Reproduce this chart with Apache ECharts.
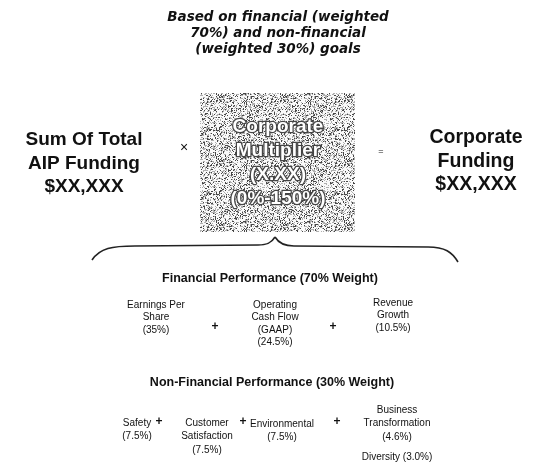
<!DOCTYPE html>
<html lang="en">
<head>
    <meta charset="UTF-8">
    <title>Corporate Funding</title>
    <script src="https://cdn.jsdelivr.net/npm/echarts@6/dist/echarts.min.js"></script>
    <style>
        body, html { padding: 0; margin: 0; background: #fff; }
        #chart-panel { width: 535px; height: 465px; }
    </style>
</head>
<body>
    <div id="chart-panel"></div>
    <script>
        // texts of the diagram
        var titleLines = ['Based on financial (weighted', '70%) and non-financial', '(weighted 30%) goals'];
        var leftLines = ['Sum Of Total', 'AIP Funding', '$XX,XXX'];
        var multiplierLines = ['Corporate', 'Multiplier', '(X.XX)', '(0%-150%)'];
        var rightLines = ['Corporate', 'Funding', '$XX,XXX'];
        var finTitle = 'Financial Performance (70% Weight)';
        var finItems = [
            ['Earnings Per', 'Share', '(35%)'],
            ['Operating', 'Cash Flow', '(GAAP)', '(24.5%)'],
            ['Revenue', 'Growth', '(10.5%)']
        ];
        var nonFinTitle = 'Non-Financial Performance (30% Weight)';
        var nonFinItems = [
            ['Safety', '(7.5%)'],
            ['Customer', 'Satisfaction', '(7.5%)'],
            ['Environmental', '(7.5%)'],
            ['Business', 'Transformation', '(4.6%)']
        ];
        var diversityLine = 'Diversity (3.0%)';

        // speckled grey texture for the multiplier box
        function makeTexture() {
            var c = document.createElement('canvas');
            c.width = 64; c.height = 64;
            var ctx = c.getContext('2d');
            var img = ctx.createImageData(64, 64);
            for (var y = 0; y < 64; y++) {
                for (var x = 0; x < 64; x++) {
                    var h = Math.imul(x * 374761393 + y * 668265263, 1274126177);
                    h = ((h ^ (h >>> 13)) >>> 0) % 100;
                    var v = h < 17 ? 70 : (h < 42 ? 175 : 250);
                    var i = (y * 64 + x) * 4;
                    img.data[i] = img.data[i + 1] = img.data[i + 2] = v;
                    img.data[i + 3] = 255;
                }
            }
            ctx.putImageData(img, 0, 0);
            return c;
        }

        var els = [];
        function addLines(lines, cx, y0, lh, font, fill) {
            lines.forEach(function (t, i) {
                els.push({
                    type: 'text',
                    style: {
                        text: t, x: cx, y: y0 + i * lh, font: font, fill: fill || '#111',
                        textAlign: 'center', textVerticalAlign: 'middle'
                    }
                });
            });
        }
        function addPlus(x, y) {
            addLines(['+'], x, y, 0, 'bold 12px "Liberation Sans", Arial');
        }

        addLines(titleLines, 278, 17, 16, 'italic bold 13.5px "DejaVu Sans"');
        addLines(leftLines, 84, 140, 23.5, 'bold 19px "Liberation Sans", Arial');
        addLines(rightLines, 476, 138, 23.5, 'bold 19.5px "Liberation Sans", Arial');
        addLines(['×'], 184, 148, 0, '14px "Liberation Sans", Arial');
        addLines(['='], 381, 152, 0, '9px "Liberation Sans", Arial');

        els.push({
            type: 'rect',
            shape: { x: 200, y: 93, width: 155, height: 139 },
            style: { fill: { image: makeTexture(), repeat: 'repeat' } }
        });
        multiplierLines.forEach(function (t, i) {
            els.push({
                type: 'text',
                style: {
                    text: t, x: 278, y: 127 + i * 24, font: 'bold 19px "Liberation Sans", Arial',
                    fill: '#fff', stroke: '#444', lineWidth: 2.5,
                    textAlign: 'center', textVerticalAlign: 'middle'
                }
            });
        });

        // curly brace under the box
        var braceStyle = { stroke: '#222', lineWidth: 1.6, fill: null };
        els.push({ type: 'bezierCurve', shape: { x1: 92, y1: 260, cpx1: 100, cpy1: 248, cpx2: 112, cpy2: 246, x2: 135, y2: 246 }, style: braceStyle });
        els.push({ type: 'line', shape: { x1: 135, y1: 246, x2: 258, y2: 245 }, style: braceStyle });
        els.push({ type: 'bezierCurve', shape: { x1: 258, y1: 245, cpx1: 268, cpy1: 245, cpx2: 272, cpy2: 242, x2: 275, y2: 237 }, style: braceStyle });
        els.push({ type: 'bezierCurve', shape: { x1: 275, y1: 237, cpx1: 278, cpy1: 242, cpx2: 283, cpy2: 246, x2: 294, y2: 246 }, style: braceStyle });
        els.push({ type: 'line', shape: { x1: 294, y1: 246, x2: 428, y2: 247 }, style: braceStyle });
        els.push({ type: 'bezierCurve', shape: { x1: 428, y1: 247, cpx1: 445, cpy1: 247, cpx2: 452, cpy2: 252, x2: 458, y2: 262 }, style: braceStyle });

        var headFont = 'bold 12.5px "Liberation Sans", Arial';
        var itemFont = '10px "Liberation Sans", Arial';
        addLines([finTitle], 270, 279, 0, headFont);
        var finX = [156, 275, 393];
        var finY = [305, 305, 303];
        finItems.forEach(function (lines, i) { addLines(lines, finX[i], finY[i], 12.5, itemFont); });
        addPlus(215, 327);
        addPlus(333, 327);

        addLines([nonFinTitle], 272, 383, 0, headFont);
        var nfX = [137, 207, 282, 397];
        var nfY = [423, 423, 424, 410];
        nonFinItems.forEach(function (lines, i) { addLines(lines, nfX[i], nfY[i], 13.5, itemFont); });
        addPlus(159, 422);
        addPlus(243, 422);
        addPlus(337, 422);
        addLines([diversityLine], 397, 457, 0, itemFont);

        var chartVM = echarts.init(document.getElementById('chart-panel'));
        chartVM.setOption({
            backgroundColor: '#fff',
            graphic: { elements: els }
        });
    </script>
</body>
</html>
